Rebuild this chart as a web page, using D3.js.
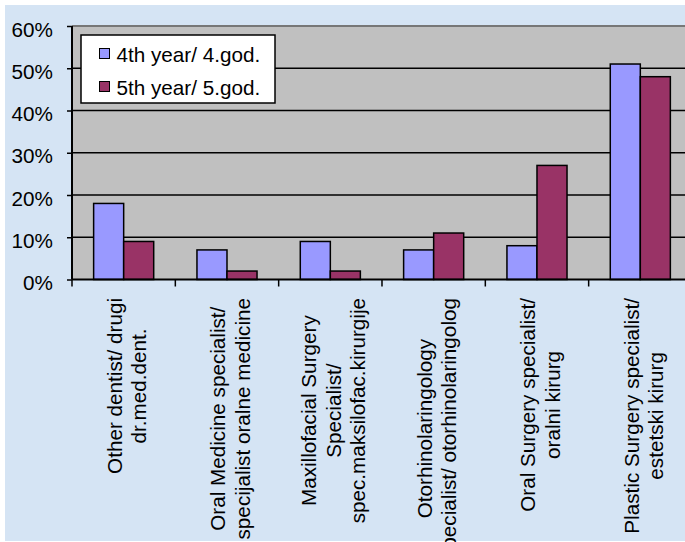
<!DOCTYPE html>
<html>
<head>
<meta charset="utf-8">
<script src="https://cdn.jsdelivr.net/npm/d3@7"></script>
<style>
  html, body { margin: 0; padding: 0; background: #ffffff; }
  svg { display: block; }
  text { font-family: "Liberation Sans", Arial, sans-serif; fill: #000; }
</style>
</head>
<body>
<svg id="chart" width="685" height="542"></svg>
<script>
// Career choice by study year (share of students)
const categories = [
  ["Other dentist/ drugi", "dr.med.dent."],
  ["Oral Medicine specialist/", "specijalist oralne medicine"],
  ["Maxillofacial Surgery", "Specialist/", "spec.maksilofac.kirurgije"],
  ["Otorhinolaringology", "specialist/ otorhinolaringolog"],
  ["Oral Surgery specialist/", "oralni kirurg"],
  ["Plastic Surgery specialist/", "estetski kirurg"]
];
const seriesNames = ["4th year/ 4.god.", "5th year/ 5.god."];
const year4 = [0.18, 0.07, 0.09, 0.07, 0.08, 0.51];
const year5 = [0.09, 0.02, 0.02, 0.11, 0.27, 0.48];
const yTicks = [0, 0.1, 0.2, 0.3, 0.4, 0.5, 0.6];
const seriesColors = ["#9999ff", "#993366"];

const svg = d3.select("#chart");
const W = 685, H = 542;
const fontSize = "20.7px";

// Outer chart area
svg.append("rect").attr("x", 5).attr("y", 5).attr("width", W - 5).attr("height", H - 6)
  .attr("fill", "#d5e4f4");

const plot = { left: 72, top: 26, bottom: 279.5, right: 72 + 6 * 103.33 };

const catKeys = categories.map((d, i) => i);
const x0 = d3.scaleBand().domain(catKeys).range([plot.left, plot.right]).padding(0);
const x1 = d3.scaleBand().domain([0, 1]).range([0, x0.bandwidth()]).paddingInner(0).paddingOuter(0.72);
const y = d3.scaleLinear().domain([0, 0.6]).range([plot.bottom, plot.top]);

// Plot background
svg.append("rect")
  .attr("x", plot.left).attr("y", plot.top)
  .attr("width", plot.right - plot.left).attr("height", plot.bottom - plot.top)
  .attr("fill", "#c0c0c0");

// Gridlines
svg.append("g").selectAll("line")
  .data(yTicks.filter(t => t > 0 && t < 0.6))
  .join("line")
  .attr("x1", plot.left).attr("x2", plot.right)
  .attr("y1", d => y(d)).attr("y2", d => y(d))
  .attr("stroke", "#000").attr("stroke-width", 1.5);

// Top border of plot
svg.append("line")
  .attr("x1", plot.left).attr("x2", plot.right)
  .attr("y1", y(0.6)).attr("y2", y(0.6))
  .attr("stroke", "#777").attr("stroke-width", 2);

// Bars
const groups = svg.append("g").selectAll("g")
  .data(catKeys)
  .join("g")
  .attr("transform", d => `translate(${x0(d)},0)`);

groups.selectAll("rect")
  .data(i => [year4[i], year5[i]].map((v, s) => ({ v, s })))
  .join("rect")
  .attr("x", d => x1(d.s))
  .attr("width", x1.bandwidth())
  .attr("y", d => y(d.v))
  .attr("height", d => y(0) - y(d.v))
  .attr("fill", d => seriesColors[d.s])
  .attr("stroke", "#000")
  .attr("stroke-width", 1.5);

// Y axis
const yAxis = d3.axisLeft(y).tickValues(yTicks).tickSize(5).tickFormat(d3.format(".0%"));
const gy = svg.append("g").attr("transform", `translate(${plot.left},0)`).call(yAxis);
gy.select(".domain").attr("stroke", "#000").attr("stroke-width", 2)
  .attr("d", `M0,${plot.top}V${plot.bottom}`);
gy.selectAll(".tick line").attr("stroke", "#000").attr("stroke-width", 1.5);
gy.selectAll(".tick text")
  .attr("x", -19).attr("dy", "10px")
  .style("font-size", fontSize).style("font-family", "'Liberation Sans', Arial, sans-serif")
  .attr("fill", "#000");

// X axis line and ticks at category boundaries
const gx = svg.append("g");
gx.append("line").attr("x1", plot.left).attr("x2", plot.right)
  .attr("y1", plot.bottom).attr("y2", plot.bottom)
  .attr("stroke", "#000").attr("stroke-width", 2);
gx.selectAll("line.tick")
  .data(catKeys.concat([categories.length]))
  .join("line").attr("class", "tick")
  .attr("x1", d => plot.left + d * x0.step()).attr("x2", d => plot.left + d * x0.step())
  .attr("y1", plot.bottom).attr("y2", plot.bottom + 7)
  .attr("stroke", "#000").attr("stroke-width", 1.5);

// Rotated category labels
const lineGap = 24.5;
const labelTop = 298;
catKeys.forEach(i => {
  const lines = categories[i];
  const cx = x0(i) + x0.bandwidth() / 2 + 3;
  const g = svg.append("g");
  const texts = lines.map((t, k) => g.append("text")
    .style("font-size", fontSize)
    .attr("text-anchor", "middle")
    .attr("dominant-baseline", "central")
    .text(t));
  const maxLen = d3.max(texts, t => t.node().getComputedTextLength());
  const cy = labelTop + maxLen / 2;
  texts.forEach((t, k) => {
    const off = (k - (lines.length - 1) / 2) * lineGap;
    t.attr("transform", `translate(${cx + off},${cy}) rotate(-90)`);
  });
});

// Legend
const leg = svg.append("g");
leg.append("rect").attr("x", 81).attr("y", 35).attr("width", 194).attr("height", 68)
  .attr("fill", "#fff").attr("stroke", "#000").attr("stroke-width", 1.5);
seriesNames.forEach((name, s) => {
  const yy = 48.5 + s * 33;
  leg.append("rect").attr("x", 99.5).attr("y", yy).attr("width", 10).attr("height", 10)
    .attr("fill", seriesColors[s]).attr("stroke", "#000").attr("stroke-width", 1);
  leg.append("text").attr("x", 116.5).attr("y", yy + 13)
    .style("font-size", fontSize).text(name);
});
</script>
</body>
</html>
